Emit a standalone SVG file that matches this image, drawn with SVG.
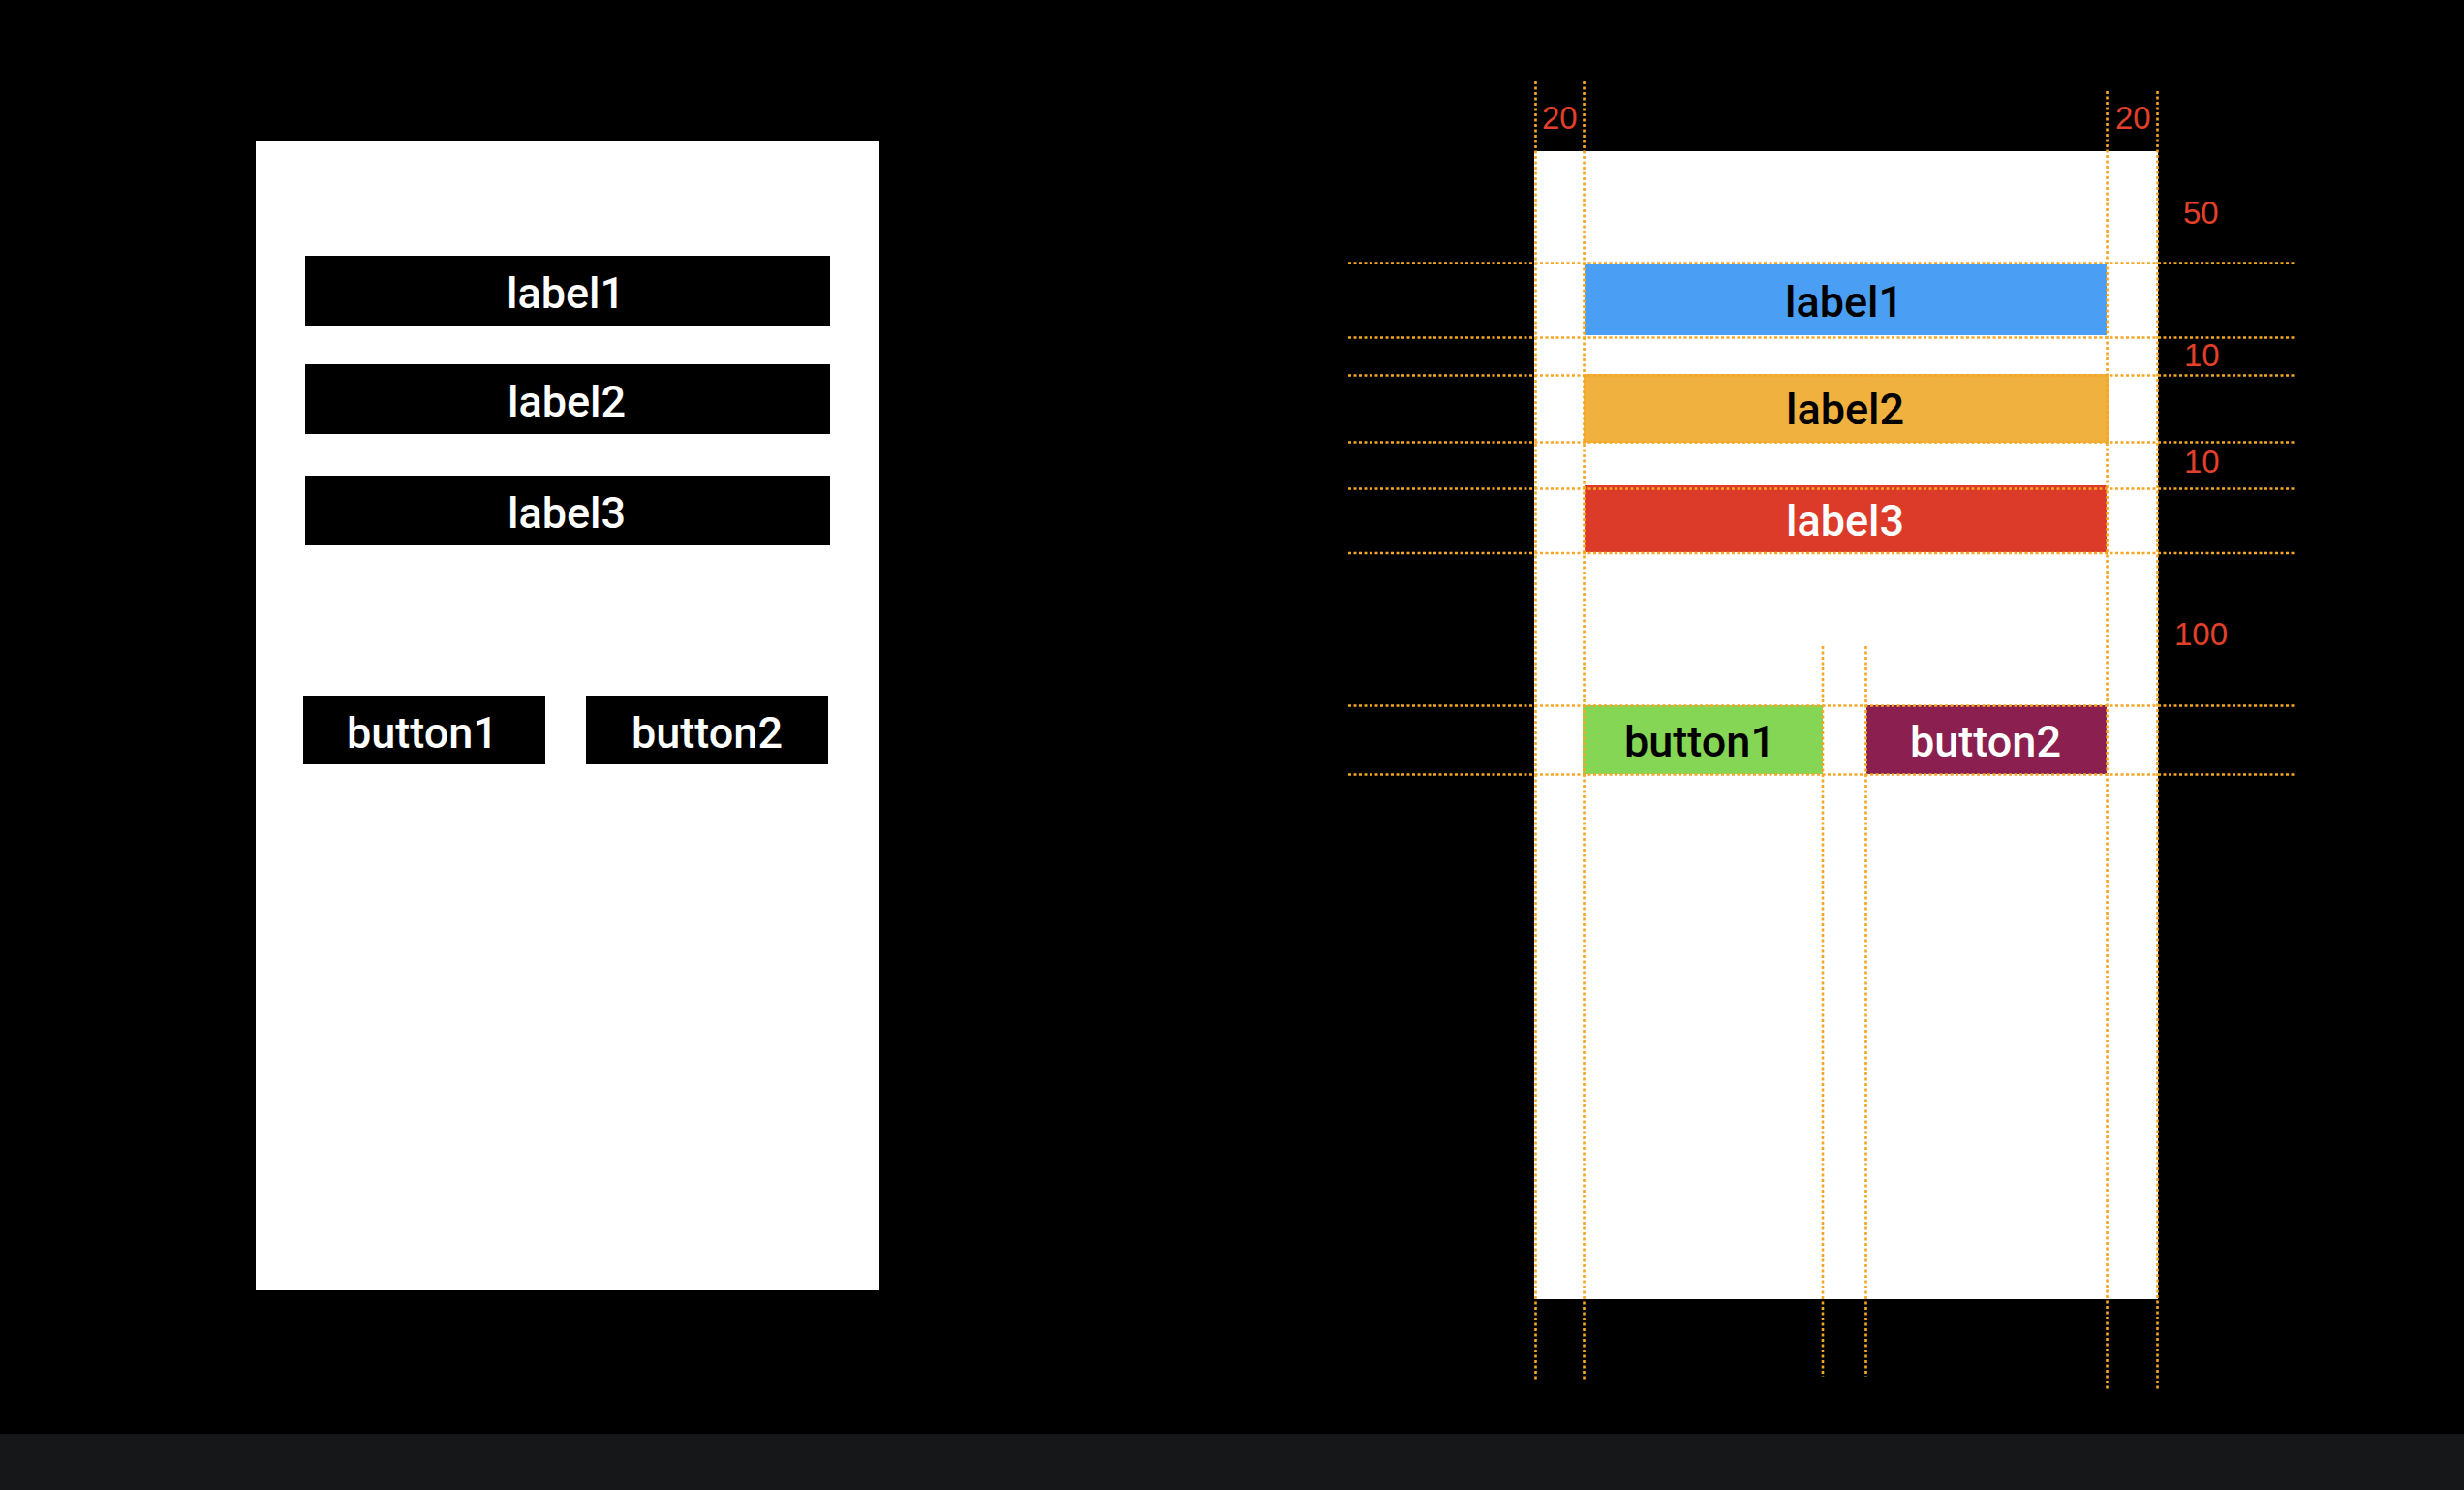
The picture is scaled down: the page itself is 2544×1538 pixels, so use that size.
<svg xmlns="http://www.w3.org/2000/svg" width="2544" height="1538" viewBox="0 0 2544 1538">
<style>
.lbl{font-family:Roboto,"Liberation Sans",Arial,sans-serif;font-weight:500;font-size:45px;text-anchor:middle}
.dim{font-family:"Liberation Sans",Arial,sans-serif;font-size:33px;fill:#E2402B}
.guide{stroke:#F5A623;stroke-width:2.6;stroke-dasharray:3 2.5;fill:none}
</style>
<rect x="0" y="0" width="2544" height="1538" fill="#000"/>
<rect x="0" y="1480" width="2544" height="58" fill="#161719"/>

<g id="left-screen">
<rect x="264" y="146" width="644" height="1186" fill="#fff"/>
</g>
<g id="left-label1"><rect x="315" y="264" width="542" height="72" fill="#000"/><text class="lbl" x="584" y="318" fill="#fff">label1</text></g>
<g id="left-label2"><rect x="315" y="376" width="542" height="72" fill="#000"/><text class="lbl" x="585" y="430" fill="#fff">label2</text></g>
<g id="left-label3"><rect x="315" y="491" width="542" height="72" fill="#000"/><text class="lbl" x="585" y="545" fill="#fff">label3</text></g>
<g id="left-button1"><rect x="313" y="718" width="250" height="71" fill="#000"/><text class="lbl" x="436" y="772" fill="#fff">button1</text></g>
<g id="left-button2"><rect x="605" y="718" width="250" height="71" fill="#000"/><text class="lbl" x="730" y="772" fill="#fff">button2</text></g>

<g id="right-screen">
<rect x="1584" y="156" width="644" height="1185" fill="#fff"/>
</g>
<g id="right-label1"><rect x="1636" y="273" width="539" height="73" fill="#4A9FF5"/><text class="lbl" x="1904" y="327" fill="#000">label1</text></g>
<g id="right-label2"><rect x="1635" y="386" width="542" height="71" fill="#F1B13F"/><text class="lbl" x="1905" y="438" fill="#000">label2</text></g>
<g id="right-label3"><rect x="1636" y="501" width="539" height="69" fill="#DB3B28"/><text class="lbl" x="1905" y="553" fill="#fff">label3</text></g>
<g id="right-button1"><rect x="1634" y="728" width="248" height="71" fill="#84D654"/><text class="lbl" x="1755" y="781" fill="#000">button1</text></g>
<g id="right-button2"><rect x="1927" y="728" width="248" height="71" fill="#8B1F50"/><text class="lbl" x="2050" y="781" fill="#fff">button2</text></g>

<g id="guides">
<line class="guide" x1="1585.5" y1="84" x2="1585.5" y2="1426"/>
<line class="guide" x1="1635.5" y1="84" x2="1635.5" y2="1426"/>
<line class="guide" x1="2175.5" y1="94" x2="2175.5" y2="1436"/>
<line class="guide" x1="2227.5" y1="94" x2="2227.5" y2="1436"/>
<line class="guide" x1="1882" y1="667" x2="1882" y2="1421"/>
<line class="guide" x1="1926.5" y1="667" x2="1926.5" y2="1421"/>
<line class="guide" x1="1392" y1="271.5" x2="2369" y2="271.5"/>
<line class="guide" x1="1392" y1="348.5" x2="2369" y2="348.5"/>
<line class="guide" x1="1392" y1="387.5" x2="2369" y2="387.5"/>
<line class="guide" x1="1392" y1="456.5" x2="2369" y2="456.5"/>
<line class="guide" x1="1392" y1="504.5" x2="2369" y2="504.5"/>
<line class="guide" x1="1392" y1="571" x2="2369" y2="571"/>
<line class="guide" x1="1392" y1="728.5" x2="2369" y2="728.5"/>
<line class="guide" x1="1392" y1="799.5" x2="2369" y2="799.5"/>
</g>

<g id="dimensions">
<text class="dim" x="1592" y="133">20</text>
<text class="dim" x="2184" y="133">20</text>
<text class="dim" x="2254" y="231">50</text>
<text class="dim" x="2255" y="378">10</text>
<text class="dim" x="2255" y="488">10</text>
<text class="dim" x="2245" y="666">100</text>
</g>
</svg>
